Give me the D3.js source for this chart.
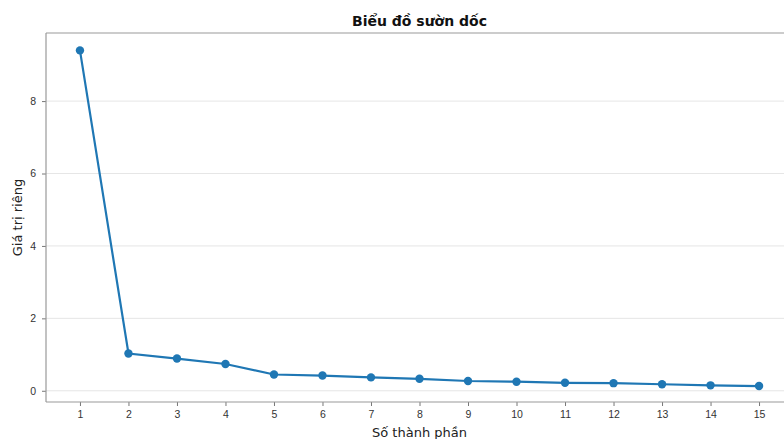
<!DOCTYPE html>
<html>
<head>
<meta charset="utf-8">
<script src="https://cdn.jsdelivr.net/npm/d3@7"></script>
<style>
  body { margin: 0; background: #fff; }
  svg { display: block; font-family: 'DejaVu Sans', sans-serif; }
  .tick text { fill: #333; font-size: 10.5px; }
  .tick line { stroke: #777; }
  .domain { display: none; }
</style>
</head>
<body>
<div id="chart"></div>
<script>
// Data

const components = [1, 2, 3, 4, 5, 6, 7, 8, 9, 10, 11, 12, 13, 14, 15];
const eigenvalues = [9.40, 1.03, 0.89, 0.74, 0.45, 0.42, 0.37, 0.33, 0.27, 0.25, 0.22, 0.21, 0.18, 0.15, 0.13];
const yTicks = [0, 2, 4, 6, 8];

const width = 784;
const height = 439;

// The plot area runs past the right edge, like the cropped original
const margin = { top: 33, right: -9, bottom: 37, left: 46 };

const svg = d3.select('#chart').append('svg')
  .attr('width', width)
  .attr('height', height);

const chartWidth = width - margin.left - margin.right;
const chartHeight = height - margin.top - margin.bottom;

const chartGroup = svg.append('g')
  .attr('transform', `translate(${margin.left}, ${margin.top})`);

const xScale = d3.scaleLinear().domain([0.3, 15.7]).range([0, chartWidth]);
const yScale = d3.scaleLinear().domain([-0.31, 9.88]).range([chartHeight, 0]);

// Horizontal grid lines only
chartGroup.append('g')
  .selectAll('line')
  .data(yTicks)
  .enter()
  .append('line')
  .attr('x1', 0)
  .attr('x2', chartWidth)
  .attr('y1', d => yScale(d))
  .attr('y2', d => yScale(d))
  .attr('stroke', '#e6e6e6')
  .attr('stroke-width', 1);

const xAxis = d3.axisBottom(xScale).tickValues(components).tickFormat(d3.format('d')).tickSizeOuter(0).tickSize(4).tickPadding(5);
const yAxis = d3.axisLeft(yScale).tickValues(yTicks).tickSizeOuter(0).tickSize(4).tickPadding(6);

chartGroup.append('g')
  .attr('transform', `translate(0, ${chartHeight})`)
  .call(xAxis);

chartGroup.append('g')
  .call(yAxis);

// Frame: top, left and bottom spines
const spines = chartGroup.append('g')
  .attr('stroke', '#999')
  .attr('stroke-width', 1.2);
spines.append('line').attr('x1', 0).attr('x2', chartWidth).attr('y1', 0).attr('y2', 0);
spines.append('line').attr('x1', 0).attr('x2', chartWidth).attr('y1', chartHeight).attr('y2', chartHeight);
spines.append('line').attr('x1', 0).attr('x2', 0).attr('y1', 0).attr('y2', chartHeight);

// Line and markers
const line = d3.line()
  .x((d, i) => xScale(components[i]))
  .y(d => yScale(d));

chartGroup.append('path')
  .datum(eigenvalues)
  .attr('d', line)
  .attr('fill', 'none')
  .attr('stroke', '#1f77b4')
  .attr('stroke-width', 2.2);

chartGroup.append('g')
  .selectAll('circle')
  .data(eigenvalues)
  .enter()
  .append('circle')
  .attr('cx', (d, i) => xScale(components[i]))
  .attr('cy', d => yScale(d))
  .attr('r', 4.2)
  .attr('fill', '#1f77b4');

// Title and axis labels
svg.append('text')
  .attr('x', margin.left + chartWidth / 2)
  .attr('y', 26)
  .attr('text-anchor', 'middle')
  .attr('font-size', 14)
  .attr('font-weight', 'bold')
  .attr('fill', '#111')
  .text('Biểu đồ sườn dốc');

svg.append('text')
  .attr('x', margin.left + chartWidth / 2)
  .attr('y', 437)
  .attr('text-anchor', 'middle')
  .attr('font-size', 13)
  .attr('fill', '#222')
  .text('Số thành phần');

svg.append('text')
  .attr('transform', `translate(22, ${margin.top + chartHeight / 2}) rotate(-90)`)
  .attr('text-anchor', 'middle')
  .attr('font-size', 13)
  .attr('fill', '#222')
  .text('Giá trị riêng');
</script>
</body>
</html>
